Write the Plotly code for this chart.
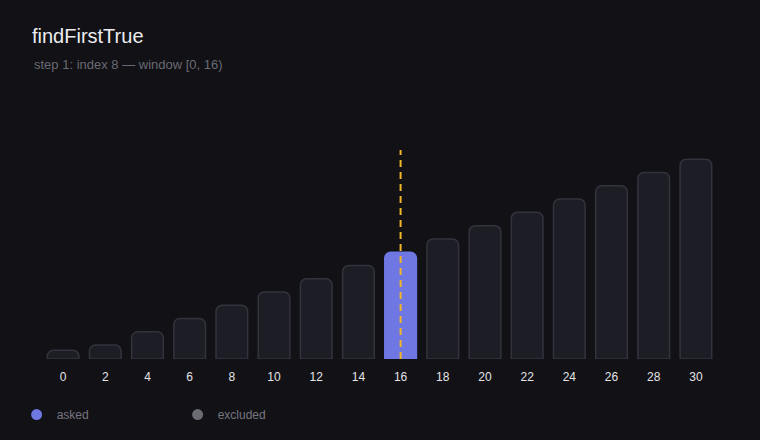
import plotly.graph_objects as go

# data
positions = [0, 2, 4, 6, 8, 10, 12, 14, 16, 18, 20, 22, 24, 26, 28, 30]
values = [1.3, 2.1, 4.1, 6.1, 8.1, 10.1, 12.1, 14.1, 16.1, 18.1, 20.1, 22.1, 24.1, 26.1, 28.1, 30.1]
asked_position = 16
tick_labels = [str(p) for p in positions]
legend_names = ["asked", "excluded"]

BG = "#111116"
BAR_FILL = "#1d1e25"
BAR_LINE = "#32333c"
ASKED = "#6e77e2"
EXCLUDED = "#6b6b73"
DASH = "#f0b429"
FONT = "'Liberation Sans', Arial, Helvetica, sans-serif"

fills = [ASKED if p == asked_position else BAR_FILL for p in positions]
lines = [ASKED if p == asked_position else BAR_LINE for p in positions]

fig = go.Figure()
fig.add_trace(go.Bar(
    x=positions, y=values, width=1.5,
    marker=dict(color=fills, line=dict(color=lines, width=1.5)),
    showlegend=False, hoverinfo="x+y",
))
fig.add_trace(go.Scatter(x=[None], y=[None], mode="markers", name=legend_names[0],
                         marker=dict(size=11, color=ASKED)))
fig.add_trace(go.Scatter(x=[None], y=[None], mode="markers", name=legend_names[1],
                         marker=dict(size=11, color=EXCLUDED)))

fig.add_shape(type="line", xref="x", yref="paper", x0=asked_position, x1=asked_position,
              y0=0, y1=1, line=dict(color=DASH, width=2, dash="7px,5px"), layer="above")

fig.update_layout(
    width=760, height=440,
    paper_bgcolor=BG, plot_bgcolor=BG,
    margin=dict(l=42, r=43, t=150, b=80),
    barcornerradius=6,
    font=dict(family=FONT, color="#e4e4e8", size=12),
    title=dict(text="findFirstTrue", x=32/760, xanchor="left", xref="container",
               y=1 - 29/440, yanchor="top", yref="container",
               font=dict(size=20, color="#ececef", family=FONT)),
    annotations=[dict(text="step 1: index 8 \u2014 window [0, 16)", xref="paper", yref="paper",
                      x=(32 - 42) / 675, y=1 + (150 - 64) / 210, xanchor="left", yanchor="middle",
                      showarrow=False, font=dict(size=13, color="#6a6a72", family=FONT))],
    xaxis=dict(range=[-1, 31], tickmode="array", tickvals=positions, ticktext=tick_labels,
               showgrid=False, zeroline=False, showline=False, ticks="",
               ticklabelstandoff=9,
               tickfont=dict(size=12, color="#e4e4e8")),
    yaxis=dict(range=[0, 31.5], visible=False, showgrid=False, zeroline=False),
    showlegend=True,
    legend=dict(orientation="h", x=-0.045 + 5 / 675, xanchor="left", y=-0.26, yanchor="middle",
                entrywidth=116, entrywidthmode="pixels", itemwidth=30,
                font=dict(size=12, color="#76767e", family=FONT), bgcolor="rgba(0,0,0,0)"),
)

fig.write_html("out.html", config={"displayModeBar": False},
               post_script="document.body.style.margin='0';")
